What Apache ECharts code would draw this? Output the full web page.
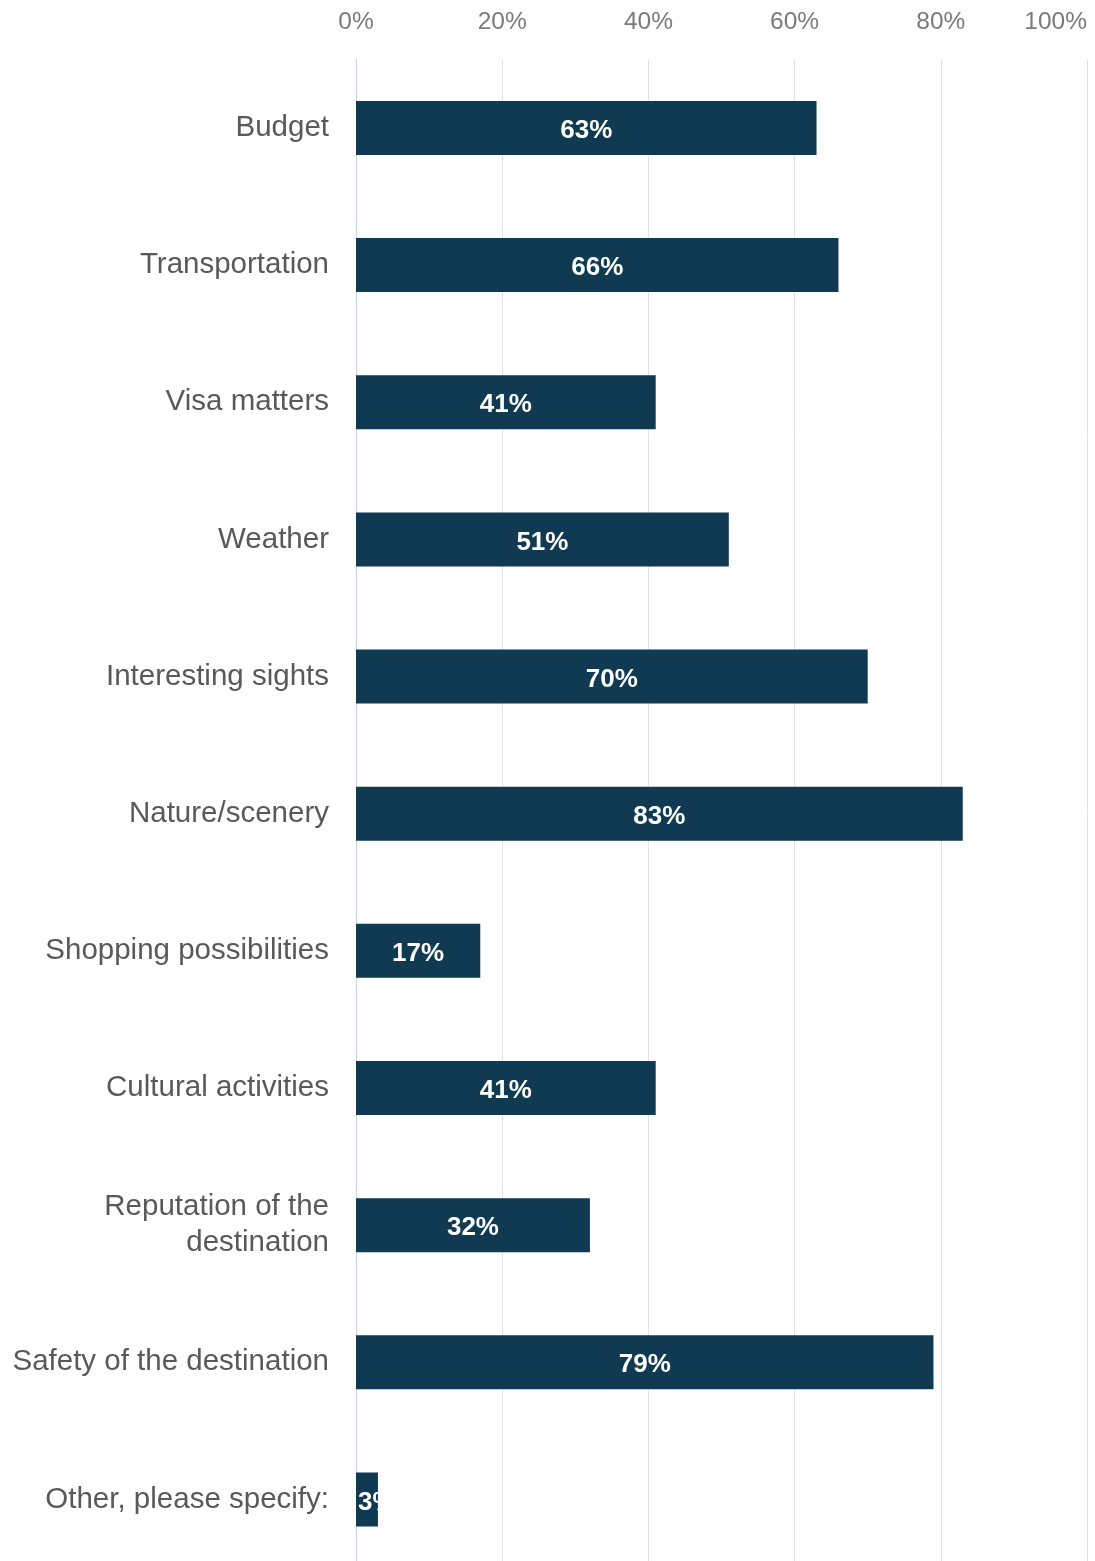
<!DOCTYPE html>
<html>
<head>
<meta charset="utf-8">
<script src="https://cdn.jsdelivr.net/npm/echarts@6/dist/echarts.min.js"></script>
<style>
  html, body { margin: 0; padding: 0; background: #ffffff; overflow: hidden; }
  /* the plot runs a little past the bottom of the window */
  #chart { width: 1095px; height: 1600px; }
</style>
</head>
<body>
<div id="chart"></div>
<script>
// Factors considered when choosing a travel destination (share of respondents, %)
const categories = [
  'Budget',
  'Transportation',
  'Visa matters',
  'Weather',
  'Interesting sights',
  'Nature/scenery',
  'Shopping possibilities',
  'Cultural activities',
  'Reputation of the\ndestination',
  'Safety of the destination',
  'Other, please specify:'
];
const shares = [63, 66, 41, 51, 70, 83, 17, 41, 32, 79, 3];
const tickValues = [0, 20, 40, 60, 80, 100];

const FONT = '"Liberation Sans", Arial, sans-serif';

// Labels sit centred in the bar; a bar too narrow for its label starts it at the left edge
const barData = shares.map(v => v < 5
  ? { value: v, label: { position: 'insideLeft', distance: 2 } }
  : v);

const chart = echarts.init(document.getElementById('chart'), null, { renderer: 'canvas' });

chart.setOption({
  backgroundColor: '#ffffff',
  animation: false,
  grid: {
    left: 356,
    width: 731,
    top: 59.4,
    height: 1508.6,
    containLabel: false
  },
  xAxis: {
    type: 'value',
    position: 'top',
    min: tickValues[0],
    max: tickValues[tickValues.length - 1],
    interval: tickValues[1] - tickValues[0],
    axisLine: { show: false },
    axisTick: { show: false },
    splitLine: { show: true, lineStyle: { color: '#e2e2e2', width: 1 } },
    axisLabel: {
      formatter: '{value}%',
      color: '#7a7a7a',
      fontFamily: FONT,
      fontSize: 24.5,
      margin: 25,
      alignMaxLabel: 'right'
    }
  },
  yAxis: {
    type: 'category',
    inverse: true,
    data: categories,
    axisTick: { show: false },
    axisLine: { show: true, lineStyle: { color: '#c8d0ea', width: 1 } },
    axisLabel: {
      color: '#595959',
      fontFamily: FONT,
      fontSize: 29.5,
      lineHeight: 36,
      margin: 27,
      padding: [5, 0, 0, 0],
      align: 'right'
    }
  },
  series: [{
    type: 'bar',
    data: barData,
    barWidth: 54,
    itemStyle: { color: '#0f3a52' },
    label: {
      show: true,
      position: 'inside',
      formatter: '{c}%',
      color: '#ffffff',
      fontFamily: FONT,
      fontSize: 26,
      fontWeight: 'bold',
      offset: [0, 3]
    }
  }]
});
</script>
</body>
</html>
